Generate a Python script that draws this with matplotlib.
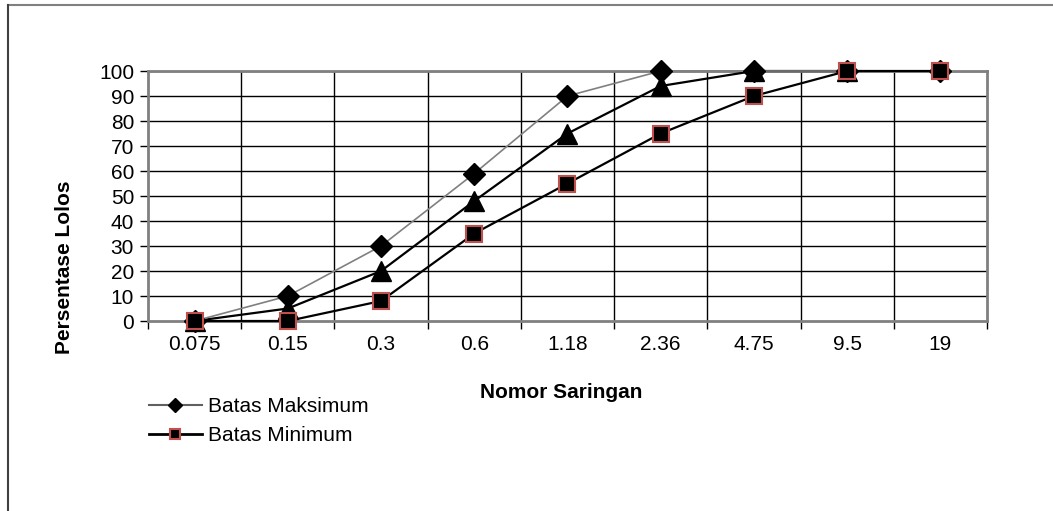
import matplotlib as mpl
import matplotlib.pyplot as plt
from matplotlib.lines import Line2D
from matplotlib.ticker import FixedLocator

mpl.rcParams.update({
    "font.family": ["Liberation Sans", "DejaVu Sans"],
    "font.size": 15,
})

# sieve sizes (mm) and passing percentages
sieves = ["0.075", "0.15", "0.3", "0.6", "1.18", "2.36", "4.75", "9.5", "19"]
batas_maks = [0, 10, 30, 59, 90, 100, 100, 100, 100]
gradasi = [0, 5, 20, 48, 75, 94, 100, 100]
batas_min = [0, 0, 8, 35, 55, 75, 90, 100, 100]
y_ticks = list(range(0, 101, 10))

W, H = 1053, 511
fig = plt.figure(figsize=(W / 100, H / 100), dpi=100)
ax = fig.add_axes([148 / W, 1 - 321 / H, (987 - 148) / W, (321 - 71) / H])

x_all = list(range(len(sieves)))

# grid: horizontal at each 10, vertical at category boundaries
for yv in y_ticks[1:]:
    ax.axhline(yv, color="black", lw=1.0, zorder=1)
for xb in range(1, len(sieves)):
    ax.axvline(xb - 0.5, color="black", lw=1.0, zorder=1)

ax.plot(x_all, batas_maks, color="#808080", lw=1.2, marker="D", ms=11,
        mfc="black", mec="black", zorder=4, clip_on=False, label="Batas Maksimum")
ax.plot(x_all[:len(gradasi)], gradasi, color="black", lw=1.6, marker="^", ms=14,
        mfc="black", mec="black", zorder=3, clip_on=False)
ax.plot(x_all, batas_min, color="black", lw=1.6, marker="s", ms=12,
        mfc="black", mec="#c0504d", mew=1.5, zorder=5, clip_on=False,
        label="Batas Minimum")

ax.set_xlim(-0.5, len(sieves) - 0.5)
ax.set_ylim(0, 100)
ax.set_yticks(y_ticks)
ax.set_xticks(x_all)
ax.set_xticklabels(sieves)
ax.xaxis.set_minor_locator(FixedLocator([i - 0.5 for i in range(len(sieves) + 1)]))
ax.tick_params(axis="x", which="major", length=0, pad=10, labelsize=15)
ax.tick_params(axis="x", which="minor", length=6, width=1, color="black")
ax.tick_params(axis="y", length=6, width=1, color="black", pad=4, labelsize=15)

for s in ax.spines.values():
    s.set_color("#808080")
    s.set_linewidth(2)
    s.set_zorder(2)

fig.text(64 / W, 1 - 267 / H, "Persentase Lolos", fontsize=15, fontweight="bold",
         rotation=90, ha="center", va="center")
fig.text(561 / W, 1 - 392 / H, "Nomor Saringan", fontsize=15, fontweight="bold",
         ha="center", va="center")

handles = [
    Line2D([], [], color="#606060", lw=1.5, marker="D", ms=7, mfc="black", mec="black"),
    Line2D([], [], color="black", lw=2, marker="s", ms=7, mfc="black", mec="#c0504d", mew=1.5),
]
fig.legend(handles, ["Batas Maksimum", "Batas Minimum"], loc="upper left",
           bbox_to_anchor=(139 / W, 1 - 387 / H), frameon=False, fontsize=15,
           handlelength=2.5, handletextpad=0.3, labelspacing=0.45, borderpad=0)

# outer chart border (top and left visible)
fig.add_artist(Line2D([8 / W, 1], [1 - 5 / H, 1 - 5 / H], color="#808080", lw=1.5,
                      transform=fig.transFigure))
fig.add_artist(Line2D([8 / W, 8 / W], [0, 1 - 5 / H], color="#404040", lw=1.5,
                      transform=fig.transFigure))

fig.savefig("out.png", dpi=100)
